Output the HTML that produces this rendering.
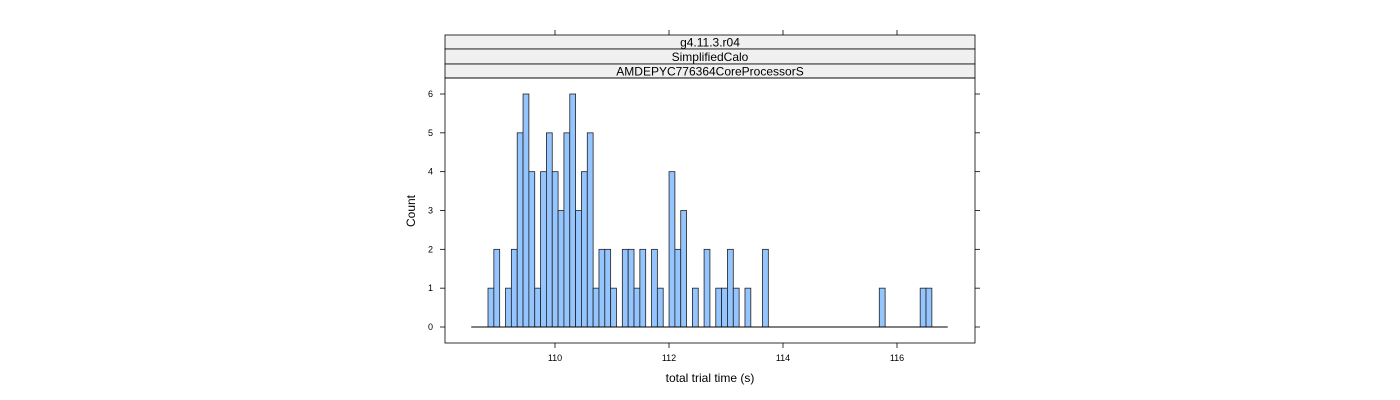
<!DOCTYPE html>
<html><head><meta charset="utf-8"><style>
html,body{margin:0;padding:0;background:#fff;}
svg{display:block;font-family:"Liberation Sans",sans-serif;}
</style></head><body>
<svg id="chart" width="1400" height="400">
<g id="strips">
<rect x="445" y="35" width="530" height="14" fill="#f0f0f0" stroke="#000" stroke-width="0.8"/>
<text x="710" y="46.5" font-size="12" text-anchor="middle">g4.11.3.r04</text>
<rect x="445" y="49" width="530" height="15" fill="#f0f0f0" stroke="#000" stroke-width="0.8"/>
<text x="710" y="61" font-size="12" text-anchor="middle">SimplifiedCalo</text>
<rect x="445" y="64" width="530" height="14" fill="#f0f0f0" stroke="#000" stroke-width="0.8"/>
<text x="710" y="75.5" font-size="12" text-anchor="middle">AMDEPYC776364CoreProcessorS</text>
</g>
<rect x="445" y="78" width="530" height="265" fill="none" stroke="#000" stroke-width="0.8"/>
<g id="bars"></g>
<g id="axes"></g>
<text x="710" y="382" font-size="12" text-anchor="middle">total trial time (s)</text>
<text x="415" y="211" font-size="12" text-anchor="middle" transform="rotate(-90 415 211)">Count</text>
</svg>
<script>
const binStart = 108.8246;
const binWidth = 0.10246;
const counts = [1,2,0,1,2,5,6,4,1,4,5,4,3,5,6,3,4,5,1,2,2,1,0,2,2,1,2,0,2,1,0,4,2,3,0,1,0,2,0,1,1,2,1,0,1,0,0,2,0,0,0,0,0,0,0,0,0,0,0,0,0,0,0,0,0,0,0,1,0,0,0,0,0,0,1,1];
const xTicks = [110,112,114,116];
const yTicks = [0,1,2,3,4,5,6];
const baseRange = [108.53, 116.89];
const NS='http://www.w3.org/2000/svg';
function xs(v){return 555+(v-110)*57;}
function ys(v){return 327-v*38.833;}
const bars=document.getElementById('bars');
counts.forEach((c,i)=>{
  if(c<=0) return;
  const x0=xs(binStart+i*binWidth), x1=xs(binStart+(i+1)*binWidth);
  const r=document.createElementNS(NS,'rect');
  r.setAttribute('x',x0);r.setAttribute('y',ys(c));
  r.setAttribute('width',x1-x0);r.setAttribute('height',ys(0)-ys(c));
  r.setAttribute('fill','#94c5ff');r.setAttribute('stroke','#222');r.setAttribute('stroke-width','0.8');
  
  
  bars.appendChild(r);
});
const bl=document.createElementNS(NS,'line');
bl.setAttribute('x1',xs(baseRange[0]));bl.setAttribute('x2',xs(baseRange[1]));
bl.setAttribute('y1',ys(0));bl.setAttribute('y2',ys(0));bl.setAttribute('stroke','#000');


bars.appendChild(bl);
const ax=document.getElementById('axes');
function line(x1,y1,x2,y2){const l=document.createElementNS(NS,'line');l.setAttribute('x1',x1);l.setAttribute('y1',y1);l.setAttribute('x2',x2);l.setAttribute('y2',y2);l.setAttribute('stroke','#000');l.setAttribute('stroke-width','0.8');


ax.appendChild(l);}
function text(x,y,s,anchor){const t=document.createElementNS(NS,'text');t.setAttribute('x',x);t.setAttribute('y',y);t.setAttribute('font-size','9');t.setAttribute('text-anchor',anchor);t.textContent=s;


ax.appendChild(t);}
xTicks.forEach(v=>{const x=xs(v);line(x,343,x,348);line(x,30,x,35);text(x,361,String(v),'middle');});
yTicks.forEach(v=>{const y=ys(v);line(440,y,445,y);line(975,y,980,y);text(433,y+3,String(v),'end');});
</script>
</body></html>
